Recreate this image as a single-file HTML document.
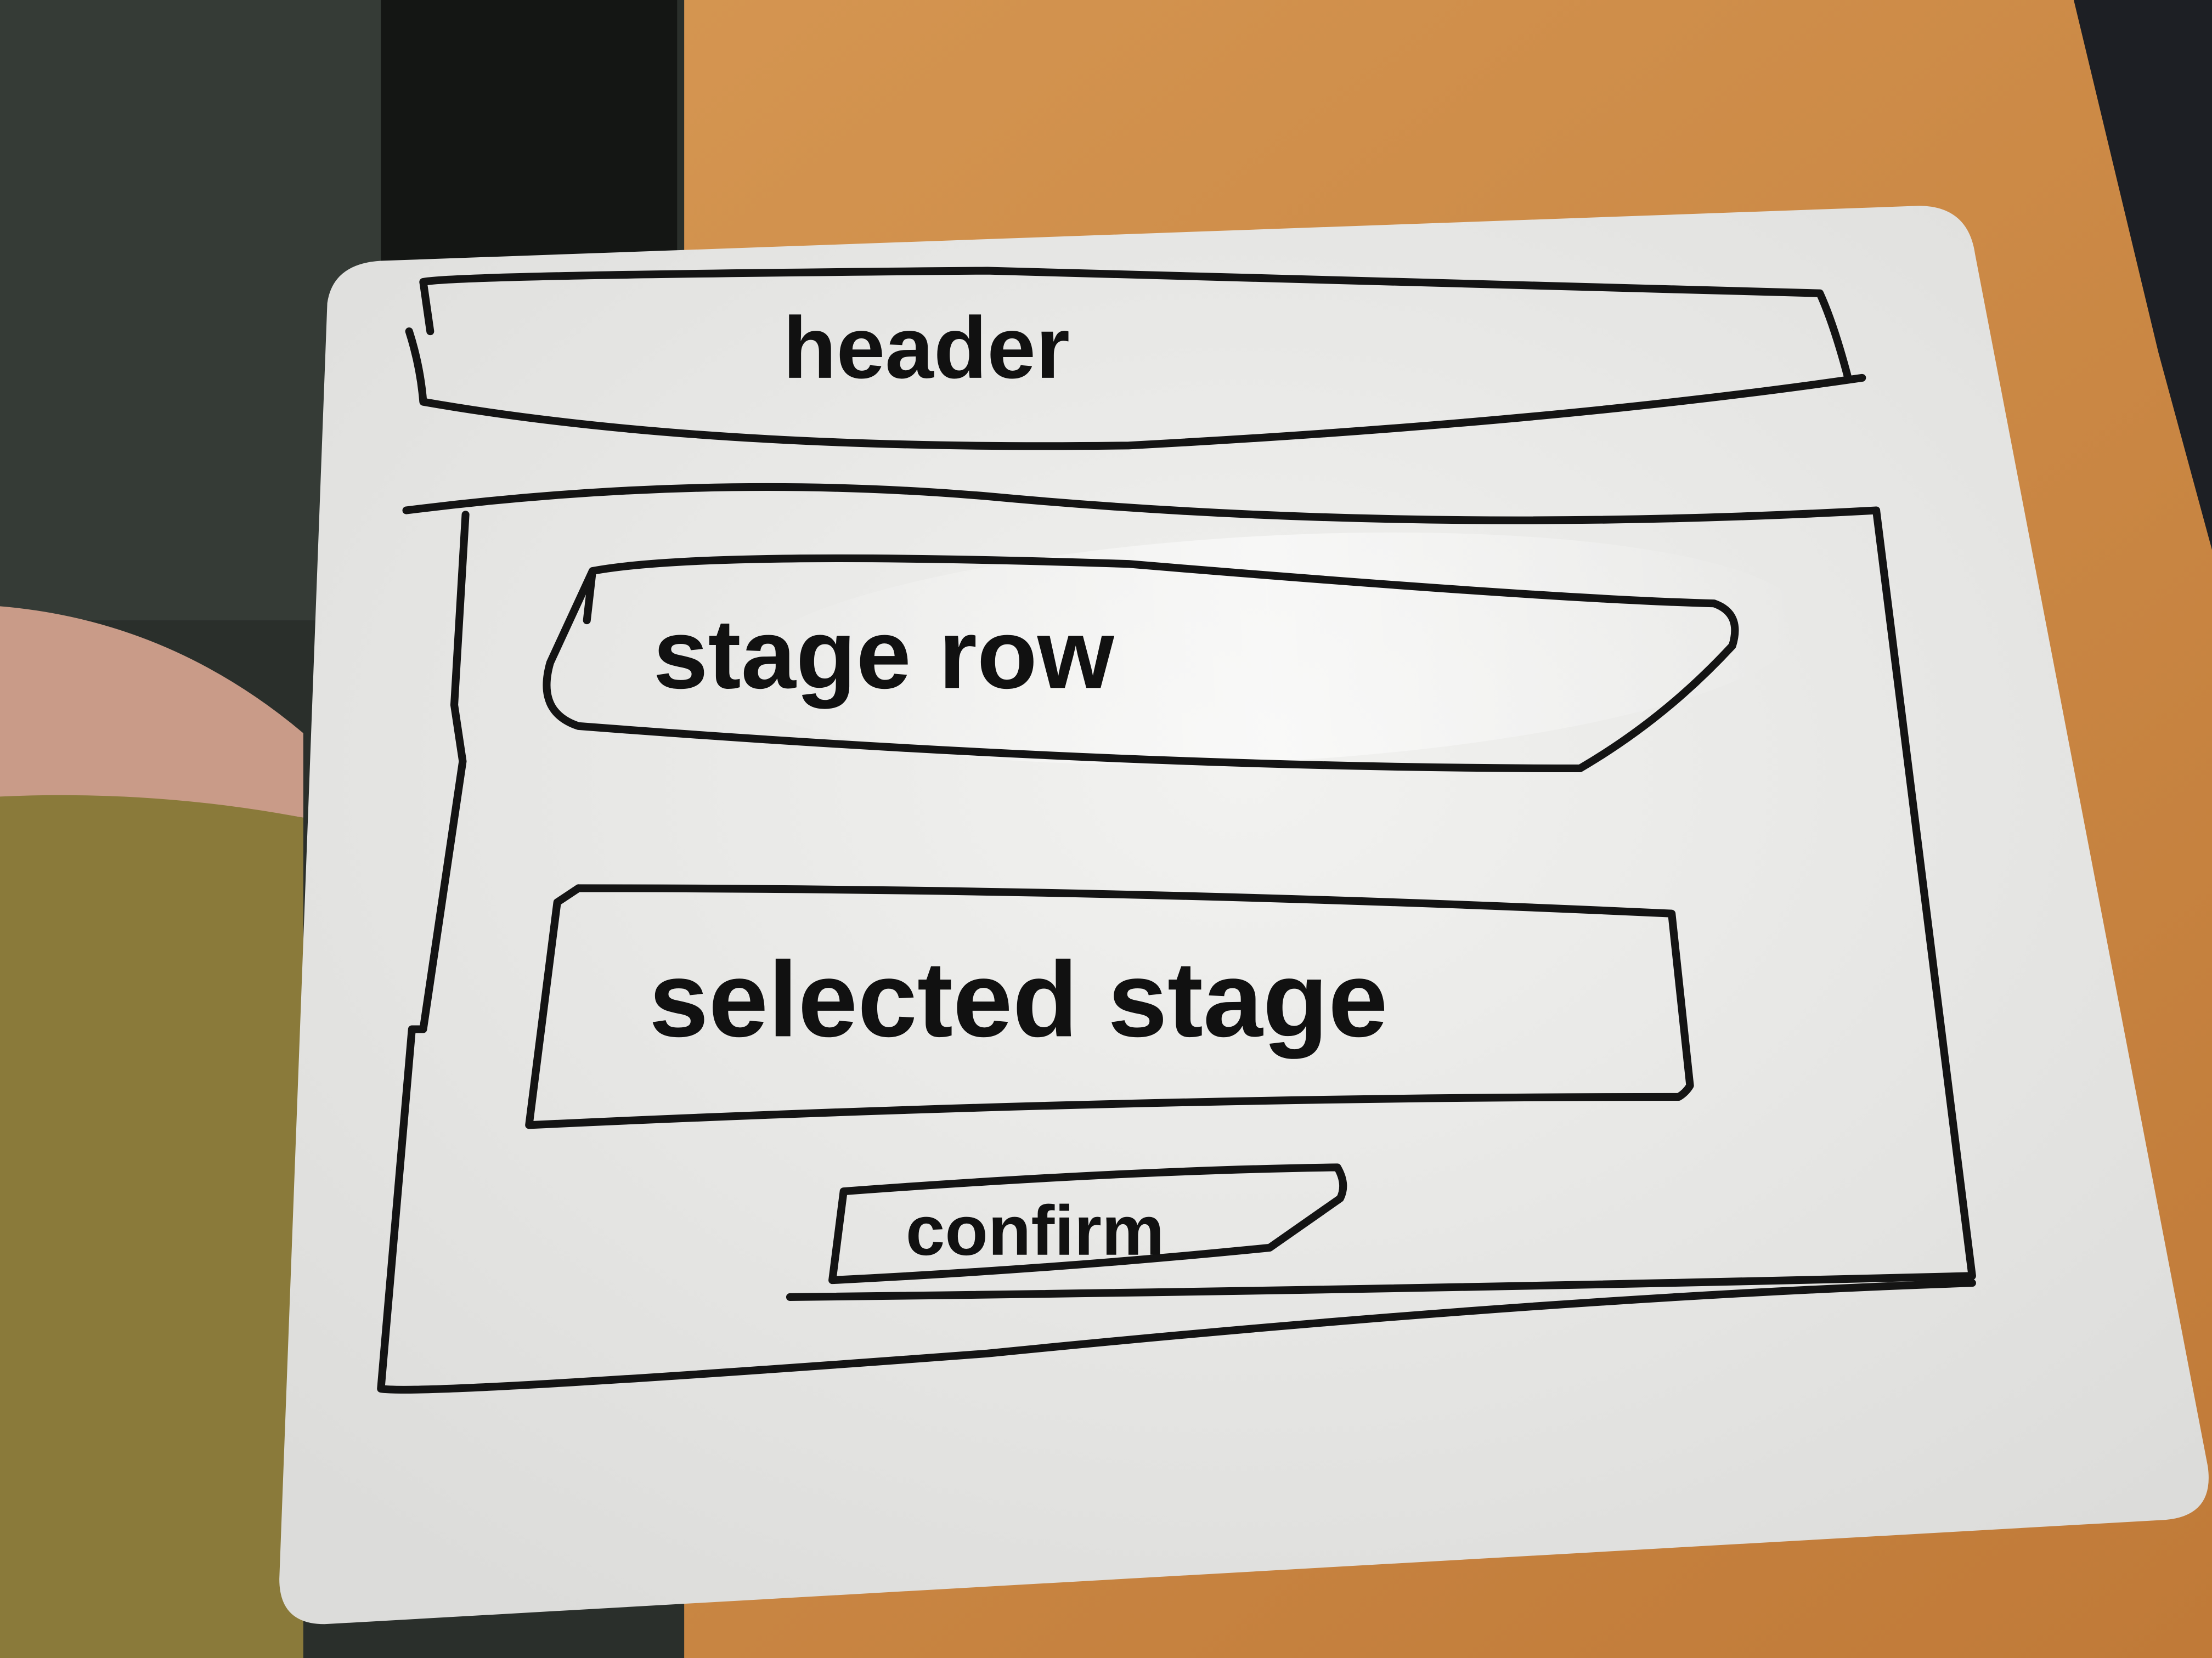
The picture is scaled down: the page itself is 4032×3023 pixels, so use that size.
<!DOCTYPE html>
<html><head><meta charset="utf-8">
<style>
html,body{margin:0;padding:0;width:4032px;height:3023px;overflow:hidden;background:#c98a45;}
svg{display:block}
text{font-family:"Comic Sans MS","Liberation Sans",sans-serif;fill:#111;}
</style></head>
<body>
<svg width="4032" height="3023" viewBox="0 0 1568 1176" preserveAspectRatio="none">
<defs>
<linearGradient id="desk" x1="0" y1="0" x2="1" y2="1">
<stop offset="0" stop-color="#d89a55"/><stop offset="1" stop-color="#c07a38"/>
</linearGradient>
<radialGradient id="board" cx="0.5" cy="0.4" r="0.7">
<stop offset="0" stop-color="#f2f2f0"/><stop offset="1" stop-color="#dcdcda"/>
</radialGradient>
<linearGradient id="glare" x1="0" y1="0" x2="1" y2="0">
<stop offset="0" stop-color="#fff" stop-opacity="0"/><stop offset="0.5" stop-color="#fff" stop-opacity="0.8"/><stop offset="1" stop-color="#fff" stop-opacity="0"/>
</linearGradient>
</defs>
<rect x="0" y="0" width="1568" height="1176" fill="url(#desk)"/>
<rect x="0" y="0" width="485" height="1176" fill="#2a2f2b"/>
<rect x="0" y="0" width="280" height="440" fill="#353b36"/>
<rect x="270" y="0" width="210" height="200" fill="#141614"/>
<path d="M0 430 Q120 440 215 520 L215 580 Q100 560 0 570 Z" fill="#c99b88"/>
<path d="M0 565 Q110 560 215 580 L215 1176 L0 1176 Z" fill="#8a7a3a"/>
<path d="M1470 0 L1568 0 L1568 390 L1530 250 Z" fill="#1d1f24"/>
<path d="M270 185 L1360 146 Q1395 146 1400 180 L1565 1040 Q1570 1075 1535 1078 L230 1152 Q198 1152 198 1120 L232 215 Q236 187 270 185 Z" fill="url(#board)"/>
<ellipse cx="900" cy="460" rx="380" ry="80" fill="url(#glare)" opacity="0.7" transform="rotate(-3 900 460)"/>
<g fill="none" stroke="#141414" stroke-width="5.5" stroke-linecap="round" stroke-linejoin="round">
<path d="M300 200 Q320 195 700 192 Q1000 200 1290 208 Q1300 230 1310 268"/>
<path d="M290 235 Q298 260 300 285 Q500 320 800 316 Q1100 300 1320 268"/>
<path d="M300 200 L305 235"/>
<path d="M288 362 Q500 335 700 352 Q1000 380 1330 362"/>
<path d="M1330 362 L1398 905 Q1000 915 560 920"/>
<path d="M330 365 L322 500 L328 540 L300 730 L292 730 L270 985 Q300 990 700 960 Q1100 920 1398 910"/>
<path d="M420 405 Q500 390 800 400 Q1100 425 1215 428 Q1235 435 1228 458 Q1180 510 1120 545 Q800 545 410 515 Q380 505 390 470 L420 405 L416 440"/>
<path d="M410 630 Q800 630 1185 648 L1198 770 Q1195 775 1190 778 Q800 778 375 798 L395 640 L410 630"/>
<path d="M598 845 Q800 830 948 828 Q955 840 950 850 L900 885 Q750 900 590 908 L598 845"/>
</g>
<text x="555" y="268" font-size="62" font-weight="bold">header</text>
<text x="463" y="488" font-size="70" font-weight="bold">stage row</text>
<text x="460" y="735" font-size="76" font-weight="bold">selected stage</text>
<text x="642" y="890" font-size="50" font-weight="bold">confirm</text>
</svg>
</body></html>
